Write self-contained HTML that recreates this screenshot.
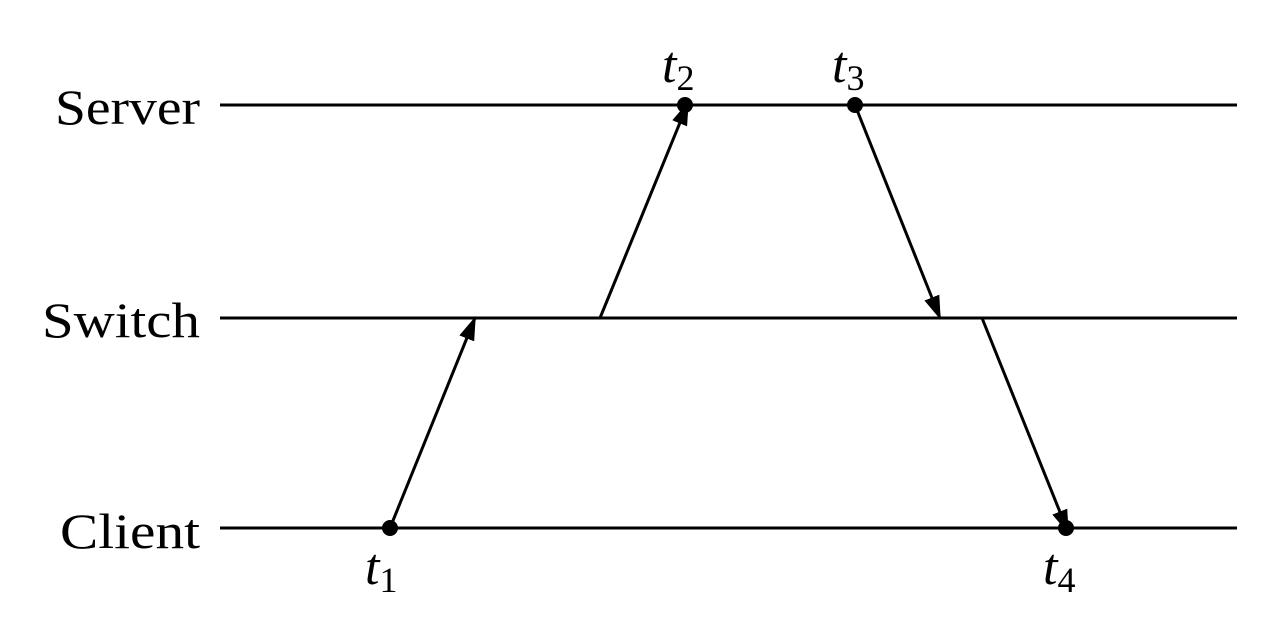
<!DOCTYPE html>
<html><head><meta charset="utf-8"><style>
html,body{margin:0;padding:0;background:#fff;}
</style></head><body>
<svg width="1280" height="636" viewBox="0 0 1280 636" xmlns="http://www.w3.org/2000/svg">
<defs>
<marker id="a" markerWidth="24" markerHeight="16" refX="22" refY="8" orient="auto" markerUnits="userSpaceOnUse">
<path d="M0,0 L24,8 L0,16 Z" fill="#000"/>
</marker>
</defs>
<g stroke="#000" stroke-width="3">
<line x1="220" y1="105" x2="1237" y2="105"/>
<line x1="220" y1="318" x2="1237" y2="318"/>
<line x1="220" y1="528" x2="1237" y2="528"/>
<line x1="390" y1="528" x2="475" y2="318" marker-end="url(#a)"/>
<line x1="600" y1="318" x2="688" y2="103" marker-end="url(#a)"/>
<line x1="855" y1="105" x2="940" y2="318" marker-end="url(#a)"/>
<line x1="982" y1="318" x2="1068" y2="532" marker-end="url(#a)"/>
</g>
<g fill="#000">
<circle cx="390" cy="528" r="8"/>
<circle cx="685" cy="105" r="8"/>
<circle cx="855" cy="105" r="8"/>
<circle cx="1066" cy="528" r="8"/>
</g>
<g font-family="Liberation Serif, serif" font-size="50" fill="#000" lengthAdjust="spacingAndGlyphs">
<text x="55" y="124" textLength="145" lengthAdjust="spacingAndGlyphs">Server</text>
<text x="42" y="337" textLength="158" lengthAdjust="spacingAndGlyphs">Switch</text>
<text x="60" y="548" textLength="140" lengthAdjust="spacingAndGlyphs">Client</text>
</g>
<g font-family="Liberation Serif, serif" fill="#000">
<text x="662" y="82" font-size="52" font-style="italic">t<tspan font-size="36" font-style="normal" dy="8">2</tspan></text>
<text x="832" y="82" font-size="52" font-style="italic">t<tspan font-size="36" font-style="normal" dy="8">3</tspan></text>
<text x="365" y="584" font-size="52" font-style="italic">t<tspan font-size="36" font-style="normal" dy="8">1</tspan></text>
<text x="1043" y="584" font-size="52" font-style="italic">t<tspan font-size="36" font-style="normal" dy="8">4</tspan></text>
</g>
</svg>
</body></html>
